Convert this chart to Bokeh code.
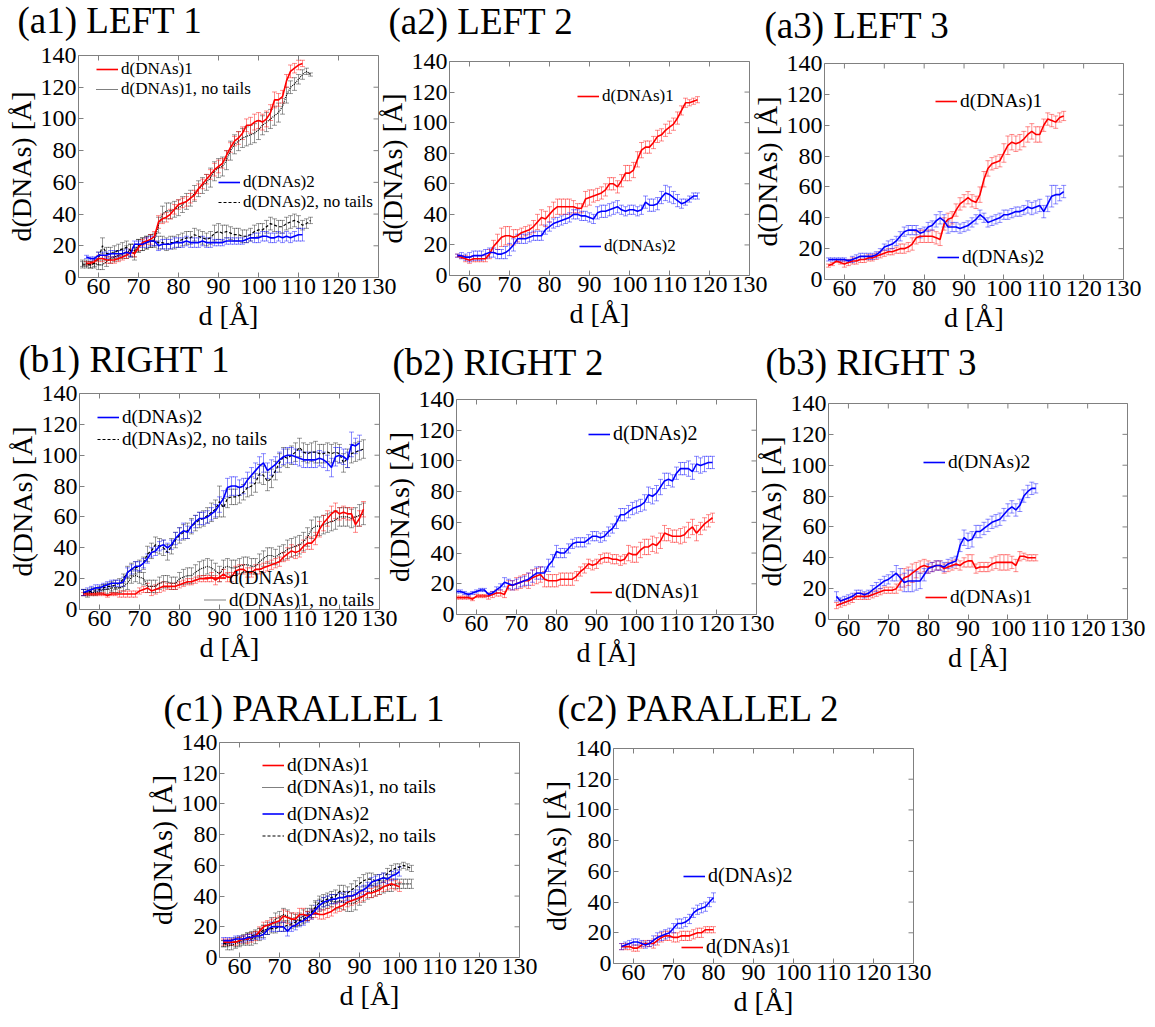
import math
from bokeh.plotting import figure
from bokeh.models import (ColumnDataSource, Whisker, TeeHead, Legend, LegendItem,
                          FixedTicker, Range1d)
from bokeh.layouts import row, column
from bokeh.embed import file_html
from bokeh.resources import INLINE

FONT = "Liberation Serif"
X_LIM = (55, 130)
Y_LIM = (0, 140)
X_TICKS = [60, 70, 80, 90, 100, 110, 120, 130]
Y_TICKS = [0, 20, 40, 60, 80, 100, 120, 140]
X_LABEL = "d [Å]"
Y_LABEL = "d(DNAs) [Å]"
LBL_D1 = "d(DNAs)1"
LBL_D1NT = "d(DNAs)1, no tails"
LBL_D2 = "d(DNAs)2"
LBL_D2NT = "d(DNAs)2, no tails"

# ---------------- (a1) LEFT 1 ----------------
A1_D1_X = list(range(57, 112))
A1_D1 = [9, 9, 10, 12, 12, 11, 11, 11, 12, 13, 14, 16, 15, 19, 22, 23, 24, 26, 35, 37,
         38, 40, 43, 46, 47, 48, 50, 52, 56, 59, 62, 65, 68, 70, 72, 77, 82, 86, 88, 91,
         96, 96, 98, 99, 98, 100, 104, 112, 112, 114, 124, 130, 132, 134, 135]
A1_D1_ERR = [1, 1, 1, 2, 2, 2, 2, 2, 2, 2, 2, 2, 2, 2, 2, 2, 3, 3, 4, 3,
             3, 3, 3, 3, 3, 3, 3, 3, 3, 3, 3, 3, 4, 4, 3, 3, 3, 3, 4, 4,
             4, 5, 5, 5, 5, 5, 5, 5, 4, 4, 4, 4, 3, 3, 2]
A1_D1NT_X = list(range(56, 114))
A1_D1NT = [9, 9, 8, 9, 8, 8, 10, 12, 13, 14, 15, 16, 17, 17, 20, 21, 22, 23, 24, 33,
           40, 42, 42, 43, 44, 46, 48, 50, 53, 56, 58, 60, 63, 67, 69, 70, 74, 80, 84, 86,
           88, 89, 90, 91, 93, 96, 98, 100, 102, 104, 108, 115, 120, 122, 125, 128, 130, 128]
A1_D1NT_ERR = [2, 2, 2, 2, 3, 3, 3, 3, 3, 3, 3, 4, 4, 4, 4, 4, 4, 4, 4, 5,
               5, 5, 5, 5, 5, 5, 5, 5, 5, 5, 5, 5, 6, 6, 6, 6, 6, 6, 6, 6,
               6, 6, 6, 6, 6, 6, 6, 6, 6, 6, 5, 5, 4, 4, 3, 3, 2, 1]
A1_D2_X = list(range(57, 112))
A1_D2 = [13, 12, 12, 14, 14, 14, 15, 15, 15, 15, 16, 15, 21, 21, 21, 22, 23, 23, 20, 21,
         21, 21, 22, 22, 22, 23, 22, 22, 22, 23, 22, 22, 22, 22, 22, 23, 23, 23, 23, 23,
         24, 25, 25, 25, 26, 26, 25, 25, 26, 25, 26, 25, 26, 27, 27]
A1_D2_ERR = [1, 1, 1, 2, 2, 2, 2, 2, 2, 2, 2, 2, 2, 2, 2, 3, 3, 3, 3, 3,
             3, 3, 3, 3, 3, 3, 3, 3, 3, 3, 3, 3, 2, 2, 2, 2, 2, 2, 2, 2,
             2, 2, 3, 3, 3, 3, 3, 3, 3, 3, 3, 3, 3, 4, 4]
A1_D2NT_X = list(range(56, 114))
A1_D2NT = [8, 8, 8, 9, 12, 20, 15, 15, 16, 17, 18, 19, 17, 15, 20, 21, 22, 23, 23, 22,
           22, 21, 22, 22, 23, 24, 25, 25, 27, 26, 25, 24, 25, 28, 29, 28, 29, 28, 27, 27,
           26, 26, 27, 29, 30, 30, 32, 34, 33, 32, 32, 34, 35, 36, 35, 33, 34, 36]
A1_D2NT_ERR = [2, 2, 2, 3, 4, 5, 4, 4, 4, 4, 4, 4, 4, 4, 4, 4, 4, 4, 4, 4,
               4, 4, 4, 4, 4, 4, 4, 4, 4, 4, 4, 4, 4, 5, 5, 5, 4, 4, 4, 4,
               4, 4, 4, 4, 4, 4, 4, 4, 4, 4, 4, 4, 4, 4, 4, 3, 3, 2]

# ---------------- (a2) LEFT 2 ----------------
A2_D1_X = list(range(57, 118))
A2_D1 = [13, 12, 11, 10, 11, 11, 11, 11, 14, 19, 22, 25, 26, 26, 25, 26, 28, 29, 30, 32,
         35, 38, 37, 40, 43, 45, 45, 45, 45, 45, 44, 44, 50, 51, 52, 53, 54, 56, 60, 60,
         58, 62, 67, 67, 69, 76, 82, 84, 84, 87, 91, 92, 95, 97, 99, 103, 108, 113, 113, 114,
         115]
A2_D1_ERR = [1, 1, 2, 2, 2, 2, 2, 2, 3, 4, 5, 6, 6, 6, 5, 4, 3, 3, 3, 4,
             5, 5, 5, 5, 5, 5, 5, 5, 5, 4, 3, 3, 5, 5, 4, 4, 4, 4, 4, 4,
             4, 4, 5, 5, 5, 5, 5, 4, 4, 4, 4, 4, 4, 4, 4, 4, 3, 3, 2, 2,
             2]
A2_D2_X = list(range(57, 118))
A2_D2 = [13, 13, 12, 12, 13, 13, 13, 14, 15, 15, 14, 14, 15, 17, 20, 24, 24, 24, 25, 26,
         26, 26, 30, 32, 34, 35, 36, 37, 38, 40, 40, 39, 39, 38, 37, 41, 42, 42, 43, 44,
         45, 43, 42, 43, 43, 42, 43, 48, 46, 46, 47, 51, 54, 53, 51, 49, 47, 48, 50, 52,
         52]
A2_D2_ERR = [1, 2, 2, 3, 3, 3, 3, 3, 3, 3, 3, 3, 4, 4, 4, 3, 3, 3, 3, 3,
             3, 3, 3, 3, 3, 3, 3, 3, 3, 3, 3, 3, 3, 3, 3, 4, 4, 4, 4, 4,
             4, 3, 3, 3, 3, 3, 3, 4, 4, 4, 4, 4, 5, 5, 4, 4, 3, 2, 2, 2,
             2]

# ---------------- (a3) LEFT 3 ----------------
A3_D1_X = list(range(56, 116))
A3_D1 = [9, 10, 12, 11, 10, 11, 12, 12, 13, 13, 14, 14, 15, 16, 17, 18, 18, 19, 20, 20,
         21, 23, 27, 28, 28, 28, 28, 27, 26, 36, 39, 40, 45, 49, 51, 53, 51, 50, 55, 65,
         72, 75, 76, 77, 82, 87, 89, 88, 89, 91, 94, 96, 94, 94, 100, 104, 103, 102, 105, 106]
A3_D1_ERR = [1, 1, 1, 1, 2, 2, 2, 2, 2, 2, 2, 2, 2, 2, 2, 2, 2, 2, 3, 3,
             3, 4, 4, 4, 4, 4, 4, 4, 4, 4, 4, 4, 4, 4, 4, 4, 4, 4, 5, 5,
             5, 4, 4, 4, 6, 6, 5, 5, 5, 5, 5, 5, 5, 5, 4, 4, 4, 4, 3, 3]
A3_D2_X = list(range(56, 116))
A3_D2 = [13, 13, 13, 13, 13, 12, 13, 14, 15, 15, 15, 15, 16, 18, 21, 22, 23, 25, 28, 31,
         32, 32, 32, 30, 31, 34, 35, 38, 40, 38, 34, 34, 34, 33, 34, 35, 37, 39, 42, 40,
         37, 38, 39, 40, 42, 42, 43, 44, 44, 45, 47, 46, 47, 48, 44, 49, 54, 55, 55, 57]
A3_D2_ERR = [1, 1, 1, 1, 1, 1, 2, 2, 2, 2, 2, 2, 2, 2, 2, 3, 3, 3, 3, 3,
             3, 3, 3, 3, 3, 3, 3, 4, 4, 4, 4, 3, 3, 3, 3, 3, 3, 3, 3, 3,
             3, 3, 3, 3, 3, 3, 3, 3, 3, 3, 4, 4, 4, 4, 4, 5, 7, 6, 4, 4]

# ---------------- (b1) RIGHT 1 ----------------
B1_D2_X = list(range(56, 126))
B1_D2 = [11, 12, 13, 14, 14, 15, 16, 17, 17, 17, 18, 24, 26, 28, 28, 30, 33, 37, 38, 41,
         42, 40, 42, 46, 49, 51, 50, 54, 57, 59, 59, 60, 62, 64, 68, 72, 79, 80, 80, 79,
         80, 84, 87, 90, 93, 95, 90, 92, 94, 97, 99, 100, 100, 99, 98, 97, 97, 97, 97, 98,
         97, 95, 92, 99, 100, 99, 97, 107, 106, 108]
B1_D2_ERR = [2, 2, 2, 2, 2, 2, 2, 2, 2, 2, 3, 3, 3, 3, 3, 3, 3, 3, 3, 3,
             3, 3, 3, 4, 4, 5, 4, 4, 4, 4, 4, 4, 4, 4, 5, 5, 6, 6, 6, 5,
             5, 5, 5, 5, 6, 6, 5, 5, 5, 5, 5, 5, 5, 5, 5, 5, 5, 5, 5, 5,
             5, 5, 6, 6, 5, 5, 5, 8, 5, 5]
B1_D2NT_X = list(range(56, 127))
B1_D2NT = [11, 11, 12, 12, 13, 14, 15, 15, 16, 17, 20, 24, 26, 27, 28, 30, 36, 38, 42, 41,
           40, 37, 41, 45, 48, 50, 51, 54, 56, 58, 59, 61, 63, 65, 70, 66, 72, 73, 73, 74,
           76, 79, 80, 82, 88, 87, 83, 85, 90, 95, 99, 98, 100, 102, 105, 102, 101, 102, 102, 101,
           101, 102, 101, 102, 101, 95, 98, 101, 102, 103, 104]
B1_D2NT_ERR = [2, 2, 2, 2, 2, 2, 2, 3, 3, 3, 3, 4, 4, 4, 4, 4, 5, 5, 5, 5,
               5, 5, 5, 5, 5, 5, 5, 5, 5, 5, 5, 5, 6, 6, 10, 6, 6, 5, 5, 5,
               5, 6, 6, 6, 6, 6, 6, 6, 6, 6, 6, 6, 6, 6, 6, 6, 6, 6, 7, 6,
               6, 6, 6, 6, 6, 6, 6, 6, 6, 6, 6]
B1_D1_X = list(range(56, 127))
B1_D1 = [10, 10, 10, 10, 10, 10, 9, 10, 10, 10, 10, 10, 10, 10, 12, 13, 14, 12, 13, 14,
         15, 15, 15, 15, 16, 17, 18, 18, 19, 20, 20, 20, 21, 19, 21, 23, 21, 21, 25, 26,
         26, 24, 24, 26, 26, 27, 28, 29, 30, 31, 34, 36, 38, 37, 38, 41, 43, 43, 46, 52,
         56, 59, 62, 64, 62, 63, 62, 62, 55, 59, 65]
B1_D1_ERR = [1, 1, 1, 1, 1, 1, 1, 1, 1, 2, 2, 2, 2, 2, 2, 2, 3, 3, 3, 3,
             3, 2, 2, 2, 2, 2, 2, 2, 2, 2, 2, 2, 3, 3, 3, 3, 3, 3, 3, 3,
             3, 3, 3, 3, 3, 3, 3, 3, 3, 3, 3, 4, 4, 4, 4, 4, 4, 4, 4, 5,
             5, 5, 5, 5, 4, 4, 4, 4, 5, 5, 5]
B1_D1NT_X = list(range(56, 127))
B1_D1NT = [11, 10, 11, 11, 12, 13, 13, 14, 14, 14, 15, 17, 21, 22, 21, 20, 15, 15, 15, 17,
           18, 18, 17, 17, 20, 21, 22, 22, 24, 26, 27, 28, 27, 25, 23, 27, 28, 27, 27, 28,
           29, 29, 28, 28, 31, 33, 35, 35, 34, 36, 37, 39, 40, 41, 42, 44, 47, 52, 54, 54,
           55, 56, 57, 58, 60, 60, 60, 59, 60, 61, 62]
B1_D1NT_ERR = [2, 2, 2, 2, 2, 3, 3, 3, 3, 3, 3, 4, 4, 4, 4, 4, 4, 4, 4, 4,
               4, 4, 4, 4, 4, 5, 5, 5, 5, 5, 5, 5, 5, 5, 5, 5, 5, 5, 5, 5,
               5, 5, 5, 5, 5, 5, 5, 5, 5, 5, 5, 6, 6, 6, 6, 6, 6, 6, 6, 6,
               6, 6, 6, 6, 6, 6, 6, 6, 6, 7, 7]

# ---------------- (b2) RIGHT 2 ----------------
B2_D2_X = list(range(55, 120))
B2_D2 = [15, 15, 14, 13, 14, 15, 16, 16, 13, 14, 16, 18, 21, 20, 19, 20, 21, 22, 23, 25,
         27, 27, 27, 32, 35, 41, 40, 40, 43, 46, 47, 47, 47, 49, 51, 51, 50, 51, 54, 56,
         60, 65, 65, 67, 69, 70, 71, 73, 78, 77, 79, 83, 87, 88, 87, 92, 95, 95, 95, 93,
         98, 97, 98, 99, 99]
B2_D2_ERR = [1, 1, 1, 1, 1, 1, 1, 1, 1, 1, 2, 2, 3, 3, 3, 3, 3, 3, 4, 4,
             4, 4, 4, 4, 4, 4, 3, 3, 3, 3, 3, 3, 3, 3, 3, 3, 3, 3, 3, 3,
             4, 4, 4, 4, 4, 4, 4, 5, 5, 5, 5, 5, 5, 4, 4, 4, 4, 4, 5, 5,
             5, 5, 5, 4, 4]
B2_D1_X = list(range(55, 120))
B2_D1 = [11, 11, 11, 11, 10, 12, 12, 12, 12, 13, 14, 14, 13, 19, 19, 20, 21, 22, 22, 24,
         25, 26, 23, 22, 22, 22, 23, 23, 23, 23, 25, 28, 30, 33, 32, 33, 36, 37, 37, 36,
         36, 35, 36, 40, 39, 39, 42, 44, 44, 46, 45, 48, 53, 52, 51, 51, 51, 52, 55, 57,
         53, 56, 59, 61, 63]
B2_D1_ERR = [1, 1, 1, 1, 1, 1, 1, 1, 2, 2, 2, 2, 2, 3, 3, 4, 4, 4, 5, 5,
             5, 5, 5, 4, 4, 4, 4, 4, 4, 4, 3, 3, 3, 3, 3, 3, 3, 3, 3, 3,
             3, 3, 3, 5, 5, 5, 5, 5, 5, 5, 5, 5, 5, 4, 4, 4, 5, 5, 5, 5,
             5, 4, 4, 4, 3]

# ---------------- (b3) RIGHT 3 ----------------
B3_D2_X = list(range(57, 108))
B3_D2 = [15, 12, 13, 14, 15, 17, 17, 16, 17, 19, 21, 23, 25, 26, 28, 30, 27, 24, 25, 25,
         25, 25, 29, 33, 34, 35, 35, 34, 36, 37, 38, 48, 53, 51, 52, 57, 57, 59, 61, 63,
         64, 65, 68, 71, 73, 71, 74, 80, 83, 85, 85]
B3_D2_ERR = [3, 2, 2, 2, 2, 2, 2, 2, 2, 3, 3, 3, 3, 3, 3, 5, 6, 6, 7, 7,
             6, 5, 4, 3, 3, 3, 3, 3, 3, 3, 3, 4, 5, 5, 5, 4, 4, 4, 4, 4,
             4, 4, 4, 4, 4, 4, 4, 4, 4, 4, 3]
B3_D1_X = list(range(57, 108))
B3_D1 = [9, 10, 11, 12, 13, 15, 15, 15, 15, 16, 17, 18, 19, 19, 19, 20, 24, 27, 28, 30,
         32, 34, 35, 34, 34, 35, 35, 33, 34, 35, 36, 35, 37, 38, 38, 33, 34, 34, 34, 36,
         37, 37, 37, 37, 37, 35, 41, 41, 40, 40, 40]
B3_D1_ERR = [2, 2, 2, 2, 2, 2, 2, 2, 2, 2, 2, 2, 2, 2, 2, 3, 5, 6, 6, 6,
             5, 4, 4, 4, 3, 3, 3, 3, 3, 3, 3, 3, 3, 4, 4, 3, 3, 3, 3, 4,
             4, 5, 5, 5, 4, 4, 3, 2, 2, 2, 2]

# ---------------- (c1) PARALLEL 1 ----------------
C1_D1_X = list(range(56, 101))
C1_D1 = [10, 10, 10, 10, 11, 12, 12, 13, 14, 17, 20, 21, 22, 23, 24, 27, 26, 25, 25, 28,
         28, 27, 28, 29, 28, 28, 29, 30, 32, 33, 34, 36, 37, 38, 39, 40, 42, 42, 43, 44,
         46, 47, 48, 47, 46]
C1_D1_ERR = [2, 2, 2, 2, 2, 2, 3, 3, 3, 3, 3, 3, 3, 3, 3, 4, 4, 4, 4, 4,
             4, 3, 3, 3, 3, 3, 3, 3, 3, 3, 3, 3, 3, 3, 3, 3, 3, 3, 3, 3,
             3, 3, 3, 3, 3]
C1_D2_X = list(range(56, 101))
C1_D2 = [11, 11, 11, 12, 12, 12, 13, 13, 14, 14, 15, 18, 20, 20, 20, 20, 17, 20, 21, 23,
         24, 26, 28, 31, 34, 36, 37, 38, 38, 39, 39, 40, 40, 41, 43, 44, 46, 49, 50, 51,
         52, 51, 53, 54, 56]
C1_D2_ERR = [2, 2, 2, 2, 2, 2, 2, 2, 2, 2, 3, 3, 3, 3, 3, 3, 3, 3, 3, 3,
             3, 3, 3, 3, 3, 3, 3, 3, 3, 3, 3, 3, 3, 3, 3, 3, 3, 3, 3, 3,
             3, 3, 3, 3, 3]
C1_D1NT_X = list(range(56, 104))
C1_D1NT = [9, 8, 8, 9, 10, 11, 12, 12, 13, 15, 17, 19, 22, 25, 26, 28, 27, 25, 24, 25,
           27, 28, 30, 32, 34, 35, 36, 37, 36, 37, 36, 35, 35, 36, 38, 40, 42, 43, 44, 45,
           46, 47, 47, 48, 48, 48, 48, 48]
C1_D1NT_ERR = [2, 3, 3, 3, 3, 3, 4, 4, 4, 4, 4, 4, 4, 4, 4, 4, 4, 4, 4, 4,
               4, 4, 4, 4, 4, 4, 4, 4, 5, 5, 5, 5, 5, 5, 4, 4, 4, 4, 4, 4,
               4, 4, 4, 3, 3, 3, 3, 3]
C1_D2NT_X = list(range(56, 104))
C1_D2NT = [9, 9, 10, 10, 11, 12, 13, 14, 15, 16, 18, 18, 19, 19, 20, 20, 21, 22, 23, 24,
           25, 27, 29, 33, 36, 37, 38, 39, 40, 43, 43, 42, 44, 46, 48, 50, 51, 51, 50, 50,
           52, 55, 57, 58, 59, 60, 59, 58]
C1_D2NT_ERR = [2, 2, 2, 3, 3, 3, 3, 3, 3, 3, 3, 3, 3, 3, 3, 3, 3, 3, 3, 3,
               3, 3, 3, 4, 4, 4, 4, 4, 4, 4, 4, 4, 4, 4, 4, 4, 4, 4, 4, 4,
               3, 3, 3, 3, 2, 2, 2, 2]

# ---------------- (c2) PARALLEL 2 ----------------
C2_D2_X = list(range(57, 81))
C2_D2 = [11, 12, 13, 14, 14, 13, 12, 13, 15, 17, 18, 19, 20, 23, 26, 26, 27, 29, 33, 35,
         36, 37, 40, 43]
C2_D2_ERR = [2, 2, 2, 2, 2, 2, 2, 2, 3, 3, 3, 3, 3, 3, 3, 3, 3, 3, 3, 3, 3, 3, 3, 3]
C2_D1_X = list(range(57, 81))
C2_D1 = [11, 11, 11, 10, 10, 12, 13, 13, 13, 15, 17, 18, 18, 17, 17, 18, 18, 18, 19, 20,
         20, 22, 22, 22]
C2_D1_ERR = [2, 2, 2, 2, 2, 2, 2, 2, 3, 3, 3, 3, 3, 3, 3, 3, 3, 3, 3, 3, 3, 2, 2, 2]

GRAY = "#808080"
STYLE = {
    "d1": dict(color="#ff0000", width=1.6, dash="solid", ealpha=0.45),
    "d2": dict(color="#0000ff", width=1.6, dash="solid", ealpha=0.45),
    "d1nt": dict(color="#000000", width=1.2, dash="1 1", ealpha=0.4),
    "d2nt": dict(color="#000000", width=1.2, dash="3 2", ealpha=0.4),
}
LABELS = {"d1": LBL_D1, "d2": LBL_D2, "d1nt": LBL_D1NT, "d2nt": LBL_D2NT}

# generous borders around every plot frame; panels are then placed by margins
BL, BR, BT, BB = 82, 24, 100, 70


def make_panel(title, fw, fh, series, legends, title_off, title_standoff):
    p = figure(frame_width=fw, frame_height=fh,
               min_border_left=BL, min_border_top=BT,
               min_border_right=BR, min_border_bottom=BB,
               x_range=Range1d(*X_LIM), y_range=Range1d(*Y_LIM),
               output_backend="svg", toolbar_location=None, title=title)
    p.title.text_font = FONT
    p.title.text_font_size = "37px"
    p.title.text_font_style = "normal"
    p.title.text_color = "black"
    p.title.align = "left"
    p.title.offset = title_off
    p.title.standoff = title_standoff
    p.xgrid.visible = False
    p.ygrid.visible = False
    p.outline_line_color = GRAY
    p.outline_line_width = 1
    p.background_fill_color = "white"
    p.border_fill_alpha = 0

    for ax, ticks, lab in ((p.xaxis[0], X_TICKS, X_LABEL), (p.yaxis[0], Y_TICKS, Y_LABEL)):
        ax.ticker = FixedTicker(ticks=ticks)
        ax.axis_line_color = None
        ax.major_tick_in = 5
        ax.major_tick_out = 0
        ax.minor_tick_line_color = None
        ax.major_tick_line_color = GRAY
        ax.major_label_text_font = FONT
        ax.major_label_text_font_size = "24px"
        ax.major_label_text_color = "black"
        ax.axis_label = lab
        ax.axis_label_text_font = FONT
        ax.axis_label_text_font_size = "28px"
        ax.axis_label_text_font_style = "normal"
        ax.axis_label_text_color = "black"
    p.xaxis.major_label_standoff = 1
    p.xaxis.axis_label_standoff = 3
    p.yaxis.major_label_standoff = 2
    p.yaxis.axis_label_standoff = 1

    # inward ticks on the top and right edges of the box
    p.scatter(x=X_TICKS, y=[Y_LIM[1]] * len(X_TICKS), marker="dash", angle=math.pi / 2,
              size=10, line_color=GRAY, line_width=1)
    p.scatter(x=[X_LIM[1]] * len(Y_TICKS), y=Y_TICKS, marker="dash",
              size=10, line_color=GRAY, line_width=1)

    rends = {}
    for key in ("d1nt", "d2nt", "d1", "d2"):
        if key not in series:
            continue
        xs, ys, es = series[key]
        st = STYLE[key]
        src = ColumnDataSource(dict(x=xs, y=ys,
                                    lo=[a - b for a, b in zip(ys, es)],
                                    hi=[a + b for a, b in zip(ys, es)]))
        w = Whisker(source=src, base="x", lower="lo", upper="hi",
                    line_color=st["color"], line_alpha=st["ealpha"], line_width=1,
                    lower_head=TeeHead(size=5, line_color=st["color"], line_alpha=st["ealpha"]),
                    upper_head=TeeHead(size=5, line_color=st["color"], line_alpha=st["ealpha"]))
        p.add_layout(w)
        r = p.line("x", "y", source=src, line_color=st["color"], line_width=st["width"],
                   line_dash=st["dash"])
        rends[key] = r

    for (lx, cy, rh, fs, keys) in legends:
        n = len(keys)
        ybot = fh - (cy - rh / 2) - n * rh
        leg = Legend(items=[LegendItem(label=LABELS[k], renderers=[rends[k]]) for k in keys],
                     location=(lx, ybot), orientation="vertical",
                     background_fill_alpha=0, border_line_color=None,
                     label_text_font=FONT, label_text_font_size=f"{fs}px",
                     label_text_color="black",
                     glyph_width=22, glyph_height=rh, label_height=rh,
                     label_standoff=3, spacing=0, padding=0, margin=0)
        p.add_layout(leg)
    return p


def place(rows):
    """rows: list of (row_y, [(fig, frame_x, frame_y, fw, fh), ...])"""
    out = []
    y_cursor = 0
    for row_y, items in rows:
        x_cursor = 0
        kids = []
        row_h = 0
        for fig, fx, fy, fw, fh in items:
            ox, oy = fx - BL, fy - BT
            ml = ox - x_cursor
            mt = oy - row_y
            wrap = column(fig)
            wrap.margin = (mt, 0, 0, ml)
            kids.append(wrap)
            x_cursor = ox + BL + fw + BR
            row_h = max(row_h, mt + BT + fh + BB)
        r = row(*kids)
        r.margin = (row_y - y_cursor, 0, 0, 0)
        out.append(r)
        y_cursor = row_y + row_h
    return column(*out)


a1 = make_panel("(a1) LEFT 1", 300, 222,
                {"d1": (A1_D1_X, A1_D1, A1_D1_ERR), "d1nt": (A1_D1NT_X, A1_D1NT, A1_D1NT_ERR),
                 "d2": (A1_D2_X, A1_D2, A1_D2_ERR), "d2nt": (A1_D2NT_X, A1_D2NT, A1_D2NT_ERR)},
                [(18, 17, 18, 17, ["d1", "d1nt"]), (140, 133, 16, 17, ["d2", "d2nt"])],
                -61, 30)
a2 = make_panel("(a2) LEFT 2", 300, 214,
                {"d1": (A2_D1_X, A2_D1, A2_D1_ERR), "d2": (A2_D2_X, A2_D2, A2_D2_ERR)},
                [(128, 35, 20, 17, ["d1"]), (130, 185, 20, 17, ["d2"])], -61, 39)
a3 = make_panel("(a3) LEFT 3", 299, 216,
                {"d1": (A3_D1_X, A3_D1, A3_D1_ERR), "d2": (A3_D2_X, A3_D2, A3_D2_ERR)},
                [(111, 39, 20, 19.5, ["d1"]), (113, 195, 20, 19.5, ["d2"])], -60, 36)
b1 = make_panel("(b1) RIGHT 1", 300, 216,
                {"d2": (B1_D2_X, B1_D2, B1_D2_ERR), "d2nt": (B1_D2NT_X, B1_D2NT, B1_D2NT_ERR),
                 "d1": (B1_D1_X, B1_D1, B1_D1_ERR), "d1nt": (B1_D1NT_X, B1_D1NT, B1_D1NT_ERR)},
                [(18, 27, 20, 19, ["d2", "d2nt"]), (125, 195, 15, 19, ["d1", "d1nt"])],
                -61, 28)
b2 = make_panel("(b2) RIGHT 2", 300, 215,
                {"d2": (B2_D2_X, B2_D2, B2_D2_ERR), "d1": (B2_D1_X, B2_D1, B2_D1_ERR)},
                [(132, 36, 20, 20, ["d2"]), (134, 194, 20, 20, ["d1"])], -64, 33)
b3 = make_panel("(b3) RIGHT 3", 299, 216,
                {"d2": (B3_D2_X, B3_D2, B3_D2_ERR), "d1": (B3_D1_X, B3_D1, B3_D1_ERR)},
                [(95, 60, 20, 19.5, ["d2"]), (97, 195, 20, 19.5, ["d1"])], -63, 41)
c1 = make_panel("(c1) PARALLEL 1", 300, 215,
                {"d1": (C1_D1_X, C1_D1, C1_D1_ERR), "d1nt": (C1_D1NT_X, C1_D1NT, C1_D1NT_ERR),
                 "d2": (C1_D2_X, C1_D2, C1_D2_ERR), "d2nt": (C1_D2NT_X, C1_D2NT, C1_D2NT_ERR)},
                [(43, 29, 18, 19.5, ["d1", "d1nt"]), (43, 76, 19, 19.5, ["d2", "d2nt"])],
                -56, 28)
c2 = make_panel("(c2) PARALLEL 2", 300, 215,
                {"d2": (C2_D2_X, C2_D2, C2_D2_ERR), "d1": (C2_D1_X, C2_D1, C2_D1_ERR)},
                [(70, 129, 20, 20, ["d2"]), (68, 200, 20, 20, ["d1"])], -56, 39)

layout = place([
    (0, [(a1, 78, 55, 300, 222), (a2, 449, 61, 300, 214), (a3, 824, 63, 299, 216)]),
    (340, [(b1, 79, 393, 300, 216), (b2, 456, 399, 300, 215), (b3, 828, 403, 299, 216)]),
    (685, [(c1, 219, 742, 300, 215), (c2, 613, 748, 300, 215)]),
])

open("out.html", "w").write(file_html(layout, INLINE))
